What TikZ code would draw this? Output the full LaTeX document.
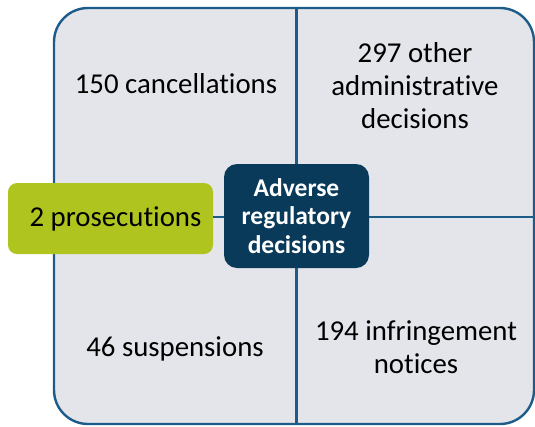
\documentclass[tikz,border=0pt]{standalone}
\usepackage{fontspec}
\setmainfont{Carlito}[Ligatures=NoCommon]
\definecolor{panelgrey}{HTML}{E4E5EA}
\definecolor{edgeblue}{HTML}{1D5C88}
\definecolor{navy}{HTML}{0A3A5A}
\definecolor{lime}{HTML}{AFC41F}
\begin{document}
\begin{tikzpicture}[x=1pt,y=-1pt,
  frame/.style={draw=edgeblue,line width=2.4pt,fill=panelgrey,rounded corners=34pt,inner sep=0pt},
  hub/.style={fill=navy,text=white,rounded corners=13pt,inner sep=0pt,minimum width=145pt,minimum height=104pt,align=center,font=\fontsize{25.5}{28.5}\selectfont\bfseries},
  leaf/.style={fill=lime,text=black,rounded corners=9pt,inner sep=0pt,minimum width=205pt,minimum height=71pt,font=\fontsize{28.8}{33}\selectfont},
  lbl/.style={align=center,text=black,font=\fontsize{28.8}{33}\selectfont,inner sep=0pt},
  link/.style={draw=edgeblue,line width=2.4pt}]
\useasboundingbox (0,0) rectangle (535,426);
\node[frame,minimum width=480pt,minimum height=416pt] (box) at (294,216) {};
\node[hub] (hub) at (296.5,216) {Adverse\\regulatory\\decisions};
\node[leaf] (pros) at (110.5,218.5) {\hspace*{10pt}2 prosecutions};
\draw[link] (hub.north) -- (hub.north |- box.north);
\draw[link] (hub.south) -- (hub.south |- box.south);
\draw[link] (hub.east |- 0,217) -- (box.east |- 0,217);
\draw[link] (pros.east |- 0,217) -- (hub.west |- 0,217);
\node[lbl] (canc) at (176,84) {150 cancellations};
\node[lbl] (other) at (415,86) {297 other\\administrative\\decisions};
\node[lbl] (susp) at (175,349) {46 suspensions};
\node[lbl] (infr) at (416,347) {194 infringement\\notices};
\end{tikzpicture}
\end{document}
